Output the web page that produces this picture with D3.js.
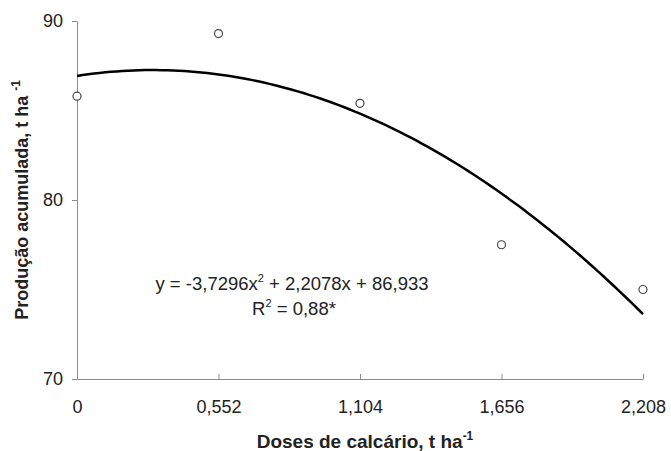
<!DOCTYPE html>
<html>
<head>
<meta charset="utf-8">
<script src="https://cdn.jsdelivr.net/npm/d3@7"></script>
<style>
  body { margin: 0; background: #fff; }
  svg { display: block; font-family: "Liberation Sans", Arial, sans-serif; }
</style>
</head>
<body>
<svg id="chart" width="671" height="451"></svg>
<script>
// observed points
var doses = [0, 0.552, 1.104, 1.656, 2.208];
var producao = [85.8, 89.3, 85.4, 77.5, 75.0];
// trendline y = a x^2 + b x + c, as printed on the chart
var coefs = [-3.7296, 2.2078, 86.933];
var xTicks = [0, 0.552, 1.104, 1.656, 2.208];
var yTicks = [70, 80, 90];

var svg = d3.select("#chart");
var plotLeft = 77, plotRight = 643, plotTop = 21, plotBottom = 379;

var x = d3.scaleLinear().domain([0, 2.208]).range([plotLeft, plotRight]);
var y = d3.scaleLinear().domain([70, 90]).range([plotBottom, plotTop]);

var axisColor = "#8c8c8c";
var fmt = function(d){ return String(d).replace(".", ","); };

// x axis, ticks pointing up into the plot
var xAxis = svg.append("g")
	.attr("transform", "translate(0," + plotBottom + ")")
	.call(d3.axisBottom(x).tickValues(xTicks).tickSize(-5).tickSizeOuter(0).tickFormat(fmt));
xAxis.select(".domain").attr("stroke", axisColor);
xAxis.selectAll(".tick line").attr("stroke", axisColor);
xAxis.selectAll(".tick text")
	.attr("y", 21)
	.attr("fill", "#222")
	.style("font-size", "18px");

// y axis, ticks pointing out
var yAxis = svg.append("g")
	.attr("transform", "translate(" + plotLeft + ",0)")
	.call(d3.axisLeft(y).tickValues(yTicks).tickSize(5).tickSizeOuter(0));
yAxis.select(".domain").attr("stroke", axisColor);
yAxis.selectAll(".tick line").attr("stroke", axisColor);
yAxis.selectAll(".tick text")
	.attr("x", -14)
	.attr("fill", "#222")
	.style("font-size", "18px");

// trendline
var curve = d3.range(0, 101).map(function(i){
	var xv = 2.208 * i / 100;
	return [xv, coefs[0] * xv * xv + coefs[1] * xv + coefs[2]];
});
svg.append("path")
	.datum(curve)
	.attr("d", d3.line().x(function(d){ return x(d[0]); }).y(function(d){ return y(d[1]); }))
	.attr("fill", "none")
	.attr("stroke", "#000")
	.attr("stroke-width", 2.5);

// points
svg.selectAll("circle.pt")
	.data(doses)
	.enter().append("circle")
	.attr("class", "pt")
	.attr("cx", function(d){ return x(d); })
	.attr("cy", function(d, i){ return y(producao[i]); })
	.attr("r", 4)
	.attr("fill", "#fff")
	.attr("stroke", "#444")
	.attr("stroke-width", 1.2);

// equation
var eq = svg.append("text")
	.attr("x", 292).attr("y", 290)
	.attr("text-anchor", "middle")
	.attr("fill", "#222")
	.style("font-size", "18.5px");
eq.append("tspan").text("y = -3,7296x");
eq.append("tspan").attr("dy", -8).style("font-size", "11px").text("2");
eq.append("tspan").attr("dy", 8).text(" + 2,2078x + 86,933");

var r2 = svg.append("text")
	.attr("x", 294).attr("y", 315)
	.attr("text-anchor", "middle")
	.attr("fill", "#222")
	.style("font-size", "18.5px");
r2.append("tspan").text("R");
r2.append("tspan").attr("dy", -8).style("font-size", "11px").text("2");
r2.append("tspan").attr("dy", 8).text(" = 0,88*");

// axis titles
var xt = svg.append("text")
	.attr("x", 365).attr("y", 448)
	.attr("text-anchor", "middle")
	.attr("font-weight", "bold")
	.attr("fill", "#222")
	.style("font-size", "19px");
xt.append("tspan").text("Doses de calcário, t ha");
xt.append("tspan").attr("dy", -8).style("font-size", "12px").text("-1");

var yt = svg.append("text")
	.attr("transform", "translate(28,200) rotate(-90)")
	.attr("text-anchor", "middle")
	.attr("font-weight", "bold")
	.attr("fill", "#222")
	.style("font-size", "18px");
yt.append("tspan").text("Produção acumulada, t ha ");
yt.append("tspan").attr("dy", -8).style("font-size", "12px").text("-1");
</script>
</body>
</html>
